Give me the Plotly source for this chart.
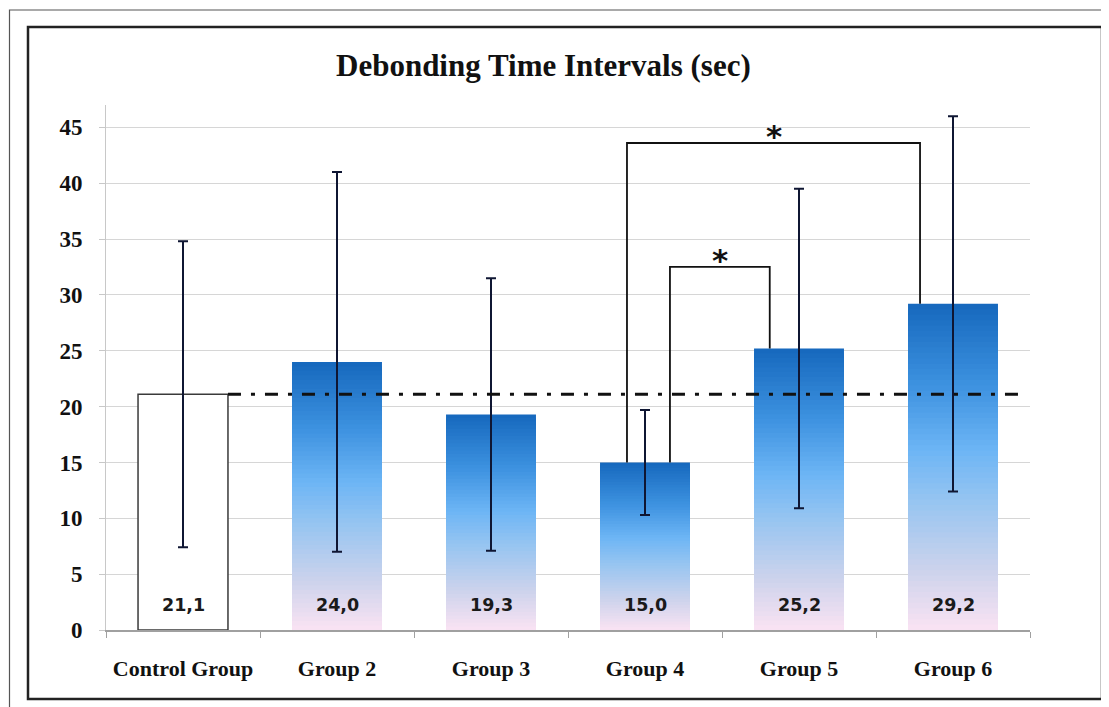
import plotly.graph_objects as go

# ---------------- data ----------------
categories = ["Control Group", "Group 2", "Group 3", "Group 4", "Group 5", "Group 6"]
means = [21.1, 24.0, 19.3, 15.0, 25.2, 29.2]
sd = [13.7, 17.0, 12.2, 4.7, 14.3, 16.8]
value_labels = ["21,1", "24,0", "19,3", "15,0", "25,2", "29,2"]
y_ticks = [0, 5, 10, 15, 20, 25, 30, 35, 40, 45]
title_text = "Debonding Time Intervals (sec)"
# significance brackets: (left group, right group, bracket top)
brackets = [(3, 5, 43.6), (3, 4, 32.5)]
reference_value = means[0]

# ---------------- layout constants ----------------
OFF = 8  # page body margin offset
W, H = 1109 - OFF, 707 - OFF
L, R, T, B = 106 - OFF, 79, 105 - OFF, 77
PW, PH = W - L - R, H - T - B
YMAX = 47


def px(x):
    return (x - OFF - L) / PW


def py(y):
    return (H - B - (y - OFF)) / PH


def lerp_color(stops, f):
    for (f0, c0), (f1, c1) in zip(stops[:-1], stops[1:]):
        if f0 <= f <= f1:
            t = (f - f0) / (f1 - f0) if f1 > f0 else 0
            a = [int(c0[i:i + 2], 16) for i in (1, 3, 5)]
            b = [int(c1[i:i + 2], 16) for i in (1, 3, 5)]
            return "rgb(%d,%d,%d)" % tuple(round(a[k] + (b[k] - a[k]) * t) for k in range(3))
    return stops[-1][1]


# gradient stops: fraction of bar height (0 bottom, 1 top)
grad = [(0.0, "#fae3f3"), (0.18, "#cdd3ec"), (0.4, "#95c4f1"), (0.55, "#6db5f5"),
        (0.75, "#3d92e0"), (1.0, "#1668bd")]

fig = go.Figure()

# control bar (white)
fig.add_trace(go.Bar(x=categories[:1], y=means[:1], marker=dict(color="white",
                     line=dict(color="#3a3a3a", width=1.5)), hoverinfo="skip"))

# gradient-filled bars built from overlaid slices
N = 60
for k in range(N):
    frac = 1 - k / N
    col = lerp_color(grad, frac - 0.5 / N)
    fig.add_trace(go.Bar(x=categories[1:], y=[v * frac for v in means[1:]],
                         marker=dict(color=col, line=dict(width=0)), hoverinfo="skip"))

# error bars on invisible bars
fig.add_trace(go.Bar(x=categories, y=means, marker=dict(color="rgba(0,0,0,0)", line=dict(width=0)),
                     error_y=dict(type="data", array=sd, visible=True, color="#0f1633",
                                  thickness=2, width=5), hoverinfo="skip"))

shapes = []
annotations = []

# reference dash-dot line at control mean
bw = 1 - 0.416
shapes.append(dict(type="line", xref="x", yref="y", x0=0 + bw / 2, x1=5.43,
                   y0=reference_value, y1=reference_value,
                   line=dict(color="#111111", width=3, dash="13px,10px,4px,10px")))

# significance brackets
leg_offsets = {(3, 5): (-0.117, -0.214), (3, 4): (0.162, -0.19)}
for (i, j, top) in brackets:
    oi, oj = leg_offsets[(i, j)]
    xi, xj = i + oi, j + oj
    shapes.append(dict(type="path", xref="x", yref="y",
                       path=f"M {xi},{means[i]} L {xi},{top} L {xj},{top} L {xj},{means[j]}",
                       line=dict(color="#111111", width=1.8)))
    annotations.append(dict(x=(xi + xj) / 2, y=top, xref="x", yref="y", text="*",
                            showarrow=False, yanchor="bottom", yshift=-13,
                            font=dict(family="DejaVu Sans", size=31, color="#111111", weight="bold")))

# value labels at bar bottoms
for c, t in zip(categories, value_labels):
    annotations.append(dict(x=c, y=2.2, xref="x", yref="y", text=t, showarrow=False,
                            yanchor="middle",
                            font=dict(family="DejaVu Sans", size=17.5, color="#1a1a1a", weight="bold")))

# title
annotations.append(dict(x=px(543), y=py(65), xref="paper", yref="paper", text=title_text,
                        showarrow=False, xanchor="center", yanchor="middle",
                        font=dict(family="Liberation Serif", size=31, color="#111111", weight="bold")))

# frame borders
shapes.append(dict(type="rect", xref="paper", yref="paper", x0=px(9.5), x1=px(1120),
                   y0=py(712), y1=py(10), line=dict(color="#555555", width=1.2), layer="below"))
shapes.append(dict(type="rect", xref="paper", yref="paper", x0=px(28), x1=px(1102),
                   y0=py(699), y1=py(27), line=dict(color="#222222", width=2.5), layer="below"))

fig.update_layout(
    width=W, height=H,
    margin=dict(l=L, r=R, t=T, b=B, pad=0),
    paper_bgcolor="white", plot_bgcolor="white",
    barmode="overlay", bargap=0.416,
    showlegend=False,
    shapes=shapes, annotations=annotations,
    xaxis=dict(type="category", range=[-0.5, 5.5], showgrid=False,
               showline=True, linecolor="#a0a0a0", linewidth=1.5,
               ticks="outside", tickson="boundaries", ticklen=6, tickcolor="#a0a0a0",
               ticklabelstandoff=18,
               tickfont=dict(family="Liberation Serif", size=22, color="#111111", weight="bold")),
    yaxis=dict(range=[0, YMAX], tickvals=y_ticks, showgrid=True, gridcolor="#d6d6d6",
               gridwidth=1, zeroline=False, showline=True, linecolor="#c8c8c8", linewidth=1,
               ticks="outside", ticklen=6, tickcolor="#c8c8c8", ticklabelstandoff=12,
               tickfont=dict(family="Liberation Serif", size=23, color="#111111", weight="bold")),
)

fig.write_html("out.html")
